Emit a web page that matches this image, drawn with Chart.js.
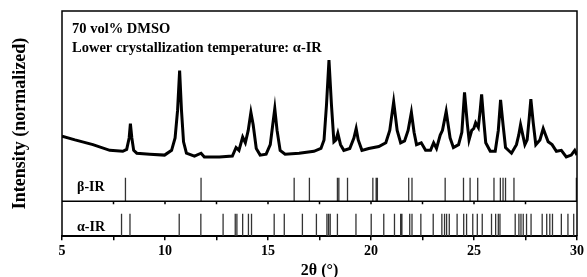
<!DOCTYPE html>
<html>
<head>
<meta charset="utf-8">
<script src="https://cdn.jsdelivr.net/npm/chart.js@4/dist/chart.umd.min.js"></script>
<style>
  body { margin: 0; background: #fff; }
  canvas { display: block; }
</style>
</head>
<body>
<canvas id="xrd" width="587" height="277"></canvas>
<script>
// measured pattern (2θ, normalized intensity)
const twoTheta = [
  5.00, 5.63, 6.50, 7.32, 7.95, 8.14, 8.26, 8.32, 8.39, 8.48, 8.63, 9.26, 9.98,
  10.32, 10.49, 10.61, 10.71, 10.80, 10.90, 11.04, 11.43, 11.75, 11.91, 12.64,
  13.27, 13.45, 13.59, 13.77, 13.90, 14.04, 14.17, 14.28, 14.43, 14.62, 14.91,
  15.11, 15.23, 15.33, 15.44, 15.59, 15.83, 16.51, 17.23, 17.57, 17.72, 17.84,
  17.96, 18.08, 18.20, 18.30, 18.39, 18.52, 18.68, 18.97, 19.17, 19.28, 19.38,
  19.56, 19.89, 20.38, 20.72, 20.91, 21.10, 21.27, 21.44, 21.63, 21.80, 21.96,
  22.09, 22.21, 22.44, 22.65, 22.89, 23.04, 23.18, 23.36, 23.47, 23.65, 23.84,
  24.00, 24.25, 24.41, 24.54, 24.68, 24.76, 24.89, 24.99, 25.08, 25.21, 25.30,
  25.37, 25.47, 25.57, 25.79, 26.03, 26.18, 26.29, 26.41, 26.53, 26.82, 27.06,
  27.17, 27.26, 27.37, 27.47, 27.58, 27.68, 27.76, 27.87, 28.00, 28.20, 28.36,
  28.48, 28.60, 28.79, 29.00, 29.24, 29.48, 29.72, 29.89, 30.00
];
const intensity = [
  0.20, 0.16, 0.11, 0.05, 0.04, 0.06, 0.18, 0.33, 0.18, 0.05, 0.02, 0.01, 0.00,
  0.05, 0.18, 0.47, 0.89, 0.47, 0.14, 0.02, -0.01, 0.02, -0.02, -0.02,
  -0.01, 0.08, 0.05, 0.19, 0.13, 0.26, 0.45, 0.32, 0.07, 0.00, 0.01,
  0.11, 0.32, 0.49, 0.26, 0.05, 0.01, 0.02, 0.04, 0.07, 0.16, 0.53,
  1.00, 0.53, 0.14, 0.16, 0.23, 0.11, 0.05, 0.07, 0.18, 0.28, 0.16,
  0.05, 0.07, 0.09, 0.13, 0.26, 0.56, 0.26, 0.13, 0.15, 0.26, 0.45,
  0.24, 0.11, 0.13, 0.05, 0.05, 0.13, 0.07, 0.21, 0.26, 0.46, 0.18,
  0.08, 0.11, 0.24, 0.66, 0.32, 0.16, 0.26, 0.28, 0.34, 0.29, 0.47,
  0.64, 0.37, 0.13, 0.04, 0.04, 0.26, 0.58, 0.32, 0.08, 0.02, 0.11,
  0.21, 0.32, 0.21, 0.11, 0.16, 0.39, 0.59, 0.35, 0.11, 0.16, 0.28,
  0.21, 0.14, 0.11, 0.04, 0.05, -0.02, 0.00, 0.05, 0.00
];

// reference peak positions (2θ)
const betaPeaks = [8.08, 11.75, 16.27, 17.01, 18.37, 18.44, 18.86, 20.09, 20.25, 20.31,
  21.83, 21.99, 23.60, 24.49, 24.81, 25.18, 25.97, 26.28, 26.41, 26.53, 26.94, 29.97];
const alphaPeaks = [7.89, 8.30, 10.69, 11.74, 12.82, 13.41, 13.49, 13.77, 14.05, 14.20,
  15.30, 15.79, 16.67, 17.35, 17.86, 17.94, 18.02, 18.37, 19.27, 20.01, 20.62, 21.14,
  21.44, 21.50, 21.88, 21.99, 22.42, 23.02, 23.44, 23.57, 23.67, 23.80, 24.18, 24.50,
  24.64, 24.94, 25.16, 25.40, 25.85, 26.05, 26.18, 26.26, 27.00, 27.18, 27.28, 27.39,
  27.55, 27.77, 28.31, 28.53, 28.68, 28.81, 29.24, 29.56, 29.84];

const xLabels = [5, 10, 15, 20, 25, 30];
const panelNames = ["β-IR", "α-IR"];
const titleLines = ["70 vol% DMSO", "Lower crystallization temperature: α-IR"];

const serif = '"Liberation Serif", "Times New Roman", serif';
Chart.defaults.font.family = serif;
Chart.defaults.color = "#000";

// vertical sticks, one segment per peak, broken with nulls
function sticks(positions, base, top) {
  const pts = [];
  positions.forEach((p) => {
    pts.push({ x: p, y: base }, { x: p, y: top }, { x: p, y: null });
  });
  return pts;
}

const framePlugin = {
  id: "frame",
  afterDraw(chart) {
    const ctx = chart.ctx;
    const { left, right, top, bottom } = chart.chartArea;
    const xs = chart.scales.x;
    const divY = chart.scales.yRef.getPixelForValue(1);

    ctx.save();
    ctx.strokeStyle = "#000";
    ctx.lineWidth = 1.5;
    ctx.beginPath();
    ctx.moveTo(left, bottom);
    ctx.lineTo(left, top);
    ctx.lineTo(right, top);
    ctx.lineTo(right, bottom);
    ctx.stroke();

    // divider between the two reference panels
    ctx.beginPath();
    ctx.moveTo(left, divY);
    ctx.lineTo(right, divY);
    for (let v = 7.5; v < 30; v += 2.5) {
      const px = xs.getPixelForValue(v);
      ctx.moveTo(px, divY);
      ctx.lineTo(px, divY + 3);
    }
    ctx.stroke();

    ctx.fillStyle = "#000";
    ctx.font = "bold 14.5px " + serif;
    ctx.textAlign = "left";
    ctx.textBaseline = "alphabetic";
    ctx.fillText(titleLines[0], left + 10, top + 22);
    ctx.fillText(titleLines[1], left + 10, top + 41);

    ctx.font = "bold 14px " + serif;
    ctx.textBaseline = "middle";
    ctx.fillText(panelNames[0], left + 15, divY - 14);
    ctx.fillText(panelNames[1], left + 15, divY + 26);

    ctx.translate(20, (top + bottom) / 2);
    ctx.rotate(-Math.PI / 2);
    ctx.textAlign = "center";
    ctx.font = "bold 18px " + serif;
    ctx.fillText("Intensity (normalized)", 0, 0);
    ctx.restore();
  }
};

new Chart(document.getElementById("xrd"), {
  type: "line",
  data: {
    datasets: [
      {
        data: twoTheta.map((t, i) => ({ x: t, y: intensity[i] })),
        yAxisID: "y",
        borderColor: "#000",
        borderWidth: 3,
        pointRadius: 0,
        tension: 0
      },
      {
        data: sticks(betaPeaks, 1, 1.67),
        yAxisID: "yRef",
        borderColor: "#333",
        borderWidth: 1.3,
        pointRadius: 0,
        spanGaps: false
      },
      {
        data: sticks(alphaPeaks, 0, 0.64),
        yAxisID: "yRef",
        borderColor: "#333",
        borderWidth: 1.3,
        pointRadius: 0,
        spanGaps: false
      }
    ]
  },
  options: {
    responsive: false,
    animation: false,
    layout: { padding: { left: 62, right: 8, top: 11, bottom: -2 } },
    plugins: { legend: { display: false }, tooltip: { enabled: false } },
    scales: {
      x: {
        type: "linear",
        min: 5,
        max: 30,
        border: { color: "#000", width: 2 },
        grid: { drawOnChartArea: false, drawTicks: true, tickLength: 4, color: "#000", lineWidth: 1.5 },
        ticks: {
          stepSize: 2.5,
          autoSkip: false,
          maxRotation: 0,
          padding: 3,
          font: { size: 14, weight: "bold" },
          callback: (v) => (xLabels.includes(v) ? v : "")
        },
        title: {
          display: true,
          text: "2θ (°)",
          font: { size: 16, weight: "bold", lineHeight: 1 },
          padding: { top: 0, bottom: 0 }
        }
      },
      y: { display: false, min: -0.853, max: 1.516 },
      yRef: { display: false, min: 0, max: 6.43 }
    }
  },
  plugins: [framePlugin]
});
</script>
</body>
</html>
